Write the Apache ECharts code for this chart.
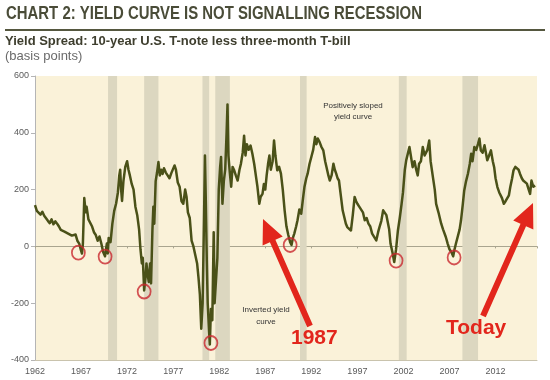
<!DOCTYPE html>
<html>
<head>
<meta charset="utf-8">
<script src="https://cdn.jsdelivr.net/npm/echarts@6/dist/echarts.min.js"></script>
<style>html,body{margin:0;padding:0;background:#fff}#c{width:550px;height:380px}</style>
</head>
<body>
<div id="c"></div>
<script>
// ---- data (years are fractional calendar years) ----
const BASE_YEAR = 1962;
const tickYears = [1962, 1967, 1972, 1977, 1982, 1987, 1992, 1997, 2002, 2007, 2012];
const yTicks = [-400, -200, 0, 200, 400, 600];

const years = [
1962.0,1962.2,1962.4,1962.6,1962.8,1963.0,1963.2,1963.4,1963.6,1963.8,
1964.0,1964.2,1964.4,1964.6,1964.8,1965.0,1965.2,1965.4,1965.6,1965.8,
1966.0,1966.2,1966.4,1966.6,1966.8,1967.0,1967.1,1967.2,1967.35,1967.5,
1967.6,1967.8,1968.0,1968.2,1968.4,1968.6,1968.8,1969.0,1969.2,1969.4,
1969.6,1969.8,1969.9,1970.0,1970.2,1970.4,1970.6,1970.8,1971.0,1971.15,
1971.25,1971.35,1971.45,1971.6,1971.8,1972.0,1972.15,1972.3,1972.5,1972.7,
1972.9,1973.1,1973.3,1973.45,1973.6,1973.7,1973.85,1974.0,1974.1,1974.2,
1974.35,1974.5,1974.6,1974.75,1974.85,1974.95,1975.1,1975.25,1975.4,1975.55,
1975.7,1975.85,1976.0,1976.2,1976.4,1976.6,1976.8,1977.0,1977.15,1977.3,
1977.5,1977.7,1977.9,1978.1,1978.3,1978.45,1978.6,1978.8,1979.0,1979.2,
1979.4,1979.6,1979.75,1979.9,1980.05,1980.2,1980.35,1980.45,1980.55,1980.65,
1980.75,1980.9,1980.98,1981.1,1981.25,1981.4,1981.5,1981.65,1981.8,1981.95,
1982.1,1982.2,1982.35,1982.5,1982.65,1982.8,1982.9,1983.0,1983.15,1983.3,
1983.45,1983.6,1983.8,1984.0,1984.2,1984.35,1984.55,1984.7,1984.85,1985.0,
1985.2,1985.4,1985.6,1985.8,1986.0,1986.15,1986.35,1986.5,1986.7,1986.85,
1987.0,1987.15,1987.3,1987.45,1987.6,1987.8,1987.95,1988.1,1988.3,1988.5,
1988.7,1988.9,1989.1,1989.3,1989.5,1989.7,1989.85,1990.0,1990.15,1990.35,
1990.5,1990.7,1990.9,1991.1,1991.25,1991.45,1991.6,1991.8,1992.0,1992.2,
1992.4,1992.55,1992.7,1992.9,1993.1,1993.3,1993.5,1993.65,1993.85,1994.0,
1994.2,1994.4,1994.55,1994.7,1994.85,1995.0,1995.2,1995.4,1995.6,1995.75,
1995.9,1996.1,1996.3,1996.5,1996.7,1996.85,1997.0,1997.2,1997.4,1997.6,
1997.8,1998.0,1998.2,1998.4,1998.6,1998.8,1999.05,1999.25,1999.4,1999.6,
1999.8,1999.95,2000.15,2000.3,2000.45,2000.6,2000.8,2001.0,2001.2,2001.4,
2001.6,2001.8,2001.95,2002.15,2002.3,2002.5,2002.65,2002.8,2003.0,2003.2,
2003.4,2003.55,2003.7,2003.9,2004.1,2004.3,2004.45,2004.6,2004.8,2004.95,
2005.2,2005.4,2005.55,2005.8,2006.1,2006.3,2006.6,2006.8,2007.0,2007.2,
2007.4,2007.55,2007.7,2007.9,2008.1,2008.25,2008.45,2008.6,2008.8,2009.0,
2009.2,2009.35,2009.5,2009.7,2009.9,2010.1,2010.25,2010.4,2010.6,2010.8,
2010.95,2011.1,2011.3,2011.5,2011.7,2011.85,2012.0,2012.2,2012.4,2012.55,
2012.7,2012.9,2013.1,2013.25,2013.45,2013.6,2013.8,2013.95,2014.15,2014.3,
2014.5,2014.65,2014.85,2015.0,2015.2,2015.4,2015.6,2015.75,2015.9,2016.1,
2016.3
];
const spread = [
145,125,118,112,122,108,112,90,82,95,
78,88,80,70,58,62,52,58,45,40,
38,35,42,20,10,-15,-25,10,170,120,
140,95,90,70,50,40,20,35,10,-20,
-35,10,-25,30,15,80,125,150,190,250,
270,200,160,230,280,300,270,250,220,200,
140,110,60,-10,-60,-40,-155,-110,-60,-90,
-125,-60,-130,60,140,80,230,260,297,250,
270,255,275,260,250,240,258,265,285,270,
225,210,160,150,200,175,120,100,20,0,
-30,-60,-110,-170,-290,-200,100,320,150,-50,
-200,-300,-345,-220,-260,50,-200,-120,-40,200,
280,315,150,230,270,400,500,320,260,210,
280,270,250,232,270,290,330,390,320,360,
340,355,326,290,244,210,150,175,185,220,
200,250,290,320,270,300,373,320,268,280,
256,200,127,70,40,15,5,30,45,70,
92,130,115,170,209,240,256,290,315,340,
385,360,380,367,350,338,300,279,250,232,
250,291,270,256,240,232,180,127,100,80,
68,70,56,110,174,160,150,140,138,120,
92,100,80,70,45,40,21,50,68,90,
127,130,110,103,60,9,-20,-55,-10,56,
100,150,190,270,303,300,350,320,279,300,
268,250,291,300,350,320,326,340,373,300,
244,200,150,120,80,60,33,10,-10,-20,
-35,-10,10,9,60,92,150,197,230,256,
290,326,300,350,340,361,380,338,330,356,
330,303,320,338,300,279,240,209,190,185,
170,150,160,162,180,209,240,268,280,279,
270,256,240,232,225,221,200,185,232,210,
214
];

// recession shading (start / end years)
const recStart = [1969.93, 1973.85, 1980.18, 1981.57, 1990.77, 2001.5, 2008.4];
const recEnd   = [1970.91, 1975.40, 1980.91, 1983.16, 1991.49, 2002.35, 2010.1];

// red circles marking troughs
const circleYears  = [1966.71, 1969.61, 1973.85, 1981.10, 1989.70, 2001.20, 2007.50];
const circleValues = [-22, -36, -159, -340, 5, -50, -39];

// ---- build ----
const lineData = years.map((y, i) => [y - BASE_YEAR, spread[i]]);
const circleData = circleYears.map((y, i) => [y - BASE_YEAR, circleValues[i]]);
const bands = recStart.map((s, i) => [{ xAxis: s - BASE_YEAR }, { xAxis: recEnd[i] - BASE_YEAR }]);

const RED = '#E2261C';
function arrow(x1, y1, x2, y2, shaft, headW, headL) {
  const dx = x2 - x1, dy = y2 - y1, len = Math.hypot(dx, dy);
  const ux = dx / len, uy = dy / len, px = -uy, py = ux;
  const bx = x2 - ux * headL, by = y2 - uy * headL;
  const s = shaft / 2, h = headW / 2;
  return [
    [x1 + px * s, y1 + py * s], [bx + px * s, by + py * s], [bx + px * h, by + py * h],
    [x2, y2],
    [bx - px * h, by - py * h], [bx - px * s, by - py * s], [x1 - px * s, y1 - py * s]
  ];
}
function fitScale(text, font, target) {
  const ctx = document.createElement('canvas').getContext('2d');
  ctx.font = font;
  const w = ctx.measureText(text).width;
  return w > 0 ? target / w : 1;
}

const TITLE = 'CHART 2: YIELD CURVE IS NOT SIGNALLING RECESSION';
const TITLE_FONT = 'bold 19px "Liberation Sans", Arial, sans-serif';
const titleScale = fitScale(TITLE, TITLE_FONT, 416);

const chart = echarts.init(document.getElementById('c'), null, { renderer: 'canvas' });
const axisLabelStyle = { color: '#5a5a5a', fontSize: 9, fontFamily: 'Liberation Sans, Arial' };

chart.setOption({
  animation: false,
  backgroundColor: '#fff',
  grid: { left: 35, right: 13, top: 76, bottom: 20, show: true, backgroundColor: '#FAF2D9', borderWidth: 0 },
  xAxis: [{
    type: 'value', min: 0, max: 54.5, interval: 5, position: 'bottom',
    axisLine: { show: true, onZero: false, lineStyle: { color: '#c9c3ad', width: 1 } },
    axisTick: { show: false }, splitLine: { show: false },
    axisLabel: Object.assign({ margin: 7, showMaxLabel: false,
      formatter: v => (tickYears.indexOf(v + BASE_YEAR) >= 0 ? String(v + BASE_YEAR) : '') }, axisLabelStyle)
  }, {
    type: 'value', min: 0, max: 54.5, interval: 5, position: 'bottom',
    axisLine: { show: true, onZero: true, lineStyle: { color: '#a9a58f', width: 1 } },
    axisTick: { show: true, length: 2, lineStyle: { color: '#a9a58f' } },
    axisLabel: { show: false }, splitLine: { show: false }
  }],
  yAxis: {
    type: 'value', min: yTicks[0], max: yTicks[yTicks.length - 1], interval: 200,
    axisLine: { show: true, lineStyle: { color: '#b5b5b5' } },
    axisTick: { show: true, length: 4, lineStyle: { color: '#b5b5b5' } },
    splitLine: { show: false },
    axisLabel: Object.assign({ margin: 6 }, axisLabelStyle)
  },
  series: [{
    type: 'line', data: lineData, showSymbol: false, xAxisIndex: 0,
    lineStyle: { color: '#4A5118', width: 2.5, join: 'round' }, z: 3,
    markArea: { silent: true, itemStyle: { color: '#DCD7C0' }, data: bands }
  }, {
    type: 'scatter', data: circleData, xAxisIndex: 0, symbol: 'circle', symbolSize: [13, 14], z: 5,
    itemStyle: { color: 'rgba(0,0,0,0)', borderColor: '#C9282E', borderWidth: 1.8 }
  }],
  graphic: [
    { type: 'text', x: 6, y: 4, scaleX: titleScale, style: { text: TITLE, font: TITLE_FONT, fill: '#4A4C38' } },
    { type: 'rect', shape: { x: 5, y: 29, width: 540, height: 2 }, style: { fill: '#55573F' } },
    { type: 'text', x: 5, y: 35, style: { text: 'Yield Spread: 10-year U.S. T-note less three-month T-bill',
      font: 'bold 13px "Liberation Sans", Arial, sans-serif', fill: '#3E3E2E' } },
    { type: 'text', x: 5, y: 50, style: { text: '(basis points)',
      font: '13px "Liberation Sans", Arial, sans-serif', fill: '#6A6A6A' } },
    { type: 'text', x: 353, y: 100, style: { text: 'Positively sloped\nyield curve', align: 'center', lineHeight: 11,
      font: '8px "Liberation Sans", sans-serif', fill: '#333' }, z: 10 },
    { type: 'text', x: 266, y: 304, style: { text: 'Inverted yield\ncurve', align: 'center', lineHeight: 12,
      font: '8px "Liberation Sans", sans-serif', fill: '#333' }, z: 10 },
    { type: 'polygon', shape: { points: arrow(310, 326, 263, 219, 6, 22, 24) }, style: { fill: RED }, z: 10 },
    { type: 'polygon', shape: { points: arrow(483, 316, 533, 203, 6, 22, 24) }, style: { fill: RED }, z: 10 },
    { type: 'text', x: 291, y: 328, style: { text: '1987', font: 'bold 21px "Liberation Sans", Arial, sans-serif', fill: RED }, z: 10 },
    { type: 'text', x: 446, y: 318, style: { text: 'Today', font: 'bold 21px "Liberation Sans", Arial, sans-serif', fill: RED }, z: 10 }
  ]
});
</script>
</body>
</html>
